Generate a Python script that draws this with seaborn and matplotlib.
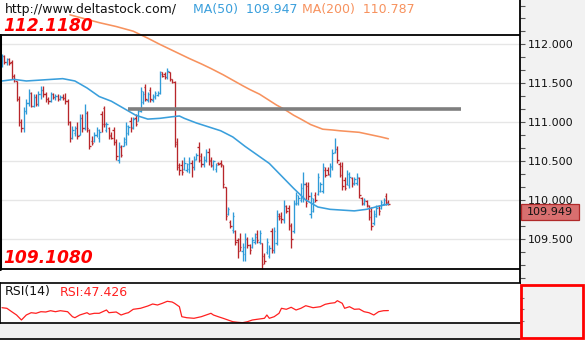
import matplotlib
matplotlib.use("Agg")
import matplotlib.pyplot as plt
import seaborn as sns
import pandas as pd
from matplotlib.patches import Rectangle
from matplotlib.lines import Line2D
from matplotlib.ticker import FixedLocator, MultipleLocator, FormatStrFormatter

# ---------------- data ----------------
bar_open = [111.74,111.85,111.77,111.81,111.77,111.60,111.53,111.30,111.00,110.92,
            111.14,111.25,111.38,111.21,111.32,111.24,111.36,111.42,111.36,111.30,
            111.27,111.36,111.32,111.34,111.30,111.33,111.31,111.27,111.00,110.80,
            110.86,110.92,110.84,111.05,110.92,111.12,110.90,110.76,110.76,110.83,
            110.80,111.10,111.18,110.90,110.92,110.84,110.90,110.75,110.52,110.68,
            110.70,110.74,110.86,111.02,110.94,111.06,111.02,111.15,111.26,111.45,
            111.28,111.42,111.28,111.32,111.35,111.38,111.64,111.62,111.58,111.64,
            111.55,111.52,110.75,110.45,110.45,110.40,110.38,110.40,110.48,110.42,
            110.53,110.68,110.56,110.46,110.52,110.62,110.52,110.44,110.40,110.48,
            110.48,110.45,110.17,109.82,109.72,109.62,109.60,109.48,109.50,109.34,
            109.30,109.50,109.42,109.40,109.46,109.56,109.46,109.45,109.28,109.33,
            109.28,109.60,109.36,109.45,109.80,109.80,109.74,109.92,109.90,109.68,
            109.60,109.96,109.96,110.00,110.02,110.20,110.18,109.82,109.86,110.06,
            110.08,110.12,110.12,110.38,110.38,110.32,110.42,110.62,110.66,110.46,
            110.44,110.26,110.21,110.19,110.28,110.20,110.22,110.28,110.02,109.95,
            109.99,109.92,109.86,109.70,109.80,109.92,109.90,109.95,110.05,109.98]
bar_high = [111.88,111.86,111.83,111.82,111.80,111.62,111.53,111.34,111.04,111.19,
            111.30,111.43,111.39,111.36,111.36,111.40,111.47,111.46,111.39,111.32,
            111.39,111.38,111.36,111.36,111.35,111.36,111.37,111.30,111.01,110.95,
            110.95,111.00,111.10,111.10,111.23,111.14,110.91,110.82,110.87,110.94,
            110.91,111.14,111.21,111.00,110.94,110.87,110.94,110.78,110.74,110.71,
            110.81,111.00,110.97,111.07,111.07,111.10,111.17,111.45,111.40,111.49,
            111.39,111.45,111.36,111.40,111.40,111.66,111.65,111.65,111.70,111.65,
            111.56,111.53,110.80,110.48,110.52,110.55,110.48,110.55,110.52,110.56,
            110.61,110.74,110.61,110.56,110.65,110.67,110.55,110.52,110.48,110.49,
            110.52,110.45,110.17,109.91,109.74,109.84,109.61,109.51,109.57,109.45,
            109.57,109.52,109.44,109.52,109.57,109.61,109.61,109.45,109.32,109.51,
            109.42,109.64,109.65,109.87,109.83,109.84,110.00,109.94,109.94,109.71,
            110.00,110.10,110.06,110.22,110.36,110.23,110.23,110.10,110.03,110.10,
            110.35,110.23,110.48,110.42,110.42,110.48,110.65,110.80,110.69,110.49,
            110.49,110.29,110.39,110.36,110.30,110.30,110.35,110.29,110.04,110.03,
            110.00,109.94,109.91,109.87,109.94,109.94,110.00,110.03,110.09,110.00]
bar_low = [111.71,111.75,111.74,111.74,111.56,111.52,111.27,110.95,110.88,110.88,
           111.10,111.21,111.19,111.20,111.21,111.21,111.30,111.33,111.26,111.24,
           111.26,111.30,111.28,111.27,111.28,111.29,111.23,110.97,110.75,110.78,
           110.82,110.78,110.84,110.88,110.90,110.88,110.65,110.71,110.75,110.81,
           110.75,110.88,110.94,110.88,110.78,110.78,110.71,110.52,110.48,110.55,
           110.69,110.71,110.84,110.88,110.91,110.95,111.01,111.13,111.23,111.27,
           111.26,111.26,111.26,111.30,111.34,111.36,111.58,111.56,111.56,111.53,
           111.50,110.68,110.39,110.32,110.32,110.39,110.36,110.35,110.30,110.39,
           110.52,110.49,110.43,110.43,110.49,110.45,110.42,110.39,110.36,110.45,
           110.43,110.16,109.74,109.81,109.64,109.57,109.42,109.26,109.35,109.22,
           109.22,109.38,109.31,109.38,109.44,109.45,109.44,109.11,109.18,109.31,
           109.25,109.32,109.32,109.42,109.74,109.71,109.71,109.83,109.61,109.38,
           109.57,109.94,109.94,109.97,109.97,109.91,110.00,109.77,109.84,109.97,
           110.06,110.10,110.09,110.30,110.32,110.30,110.39,110.61,110.48,110.29,
           110.13,110.13,110.19,110.16,110.17,110.19,110.19,110.03,109.94,109.94,
           109.91,109.74,109.61,109.68,109.78,109.81,109.89,109.94,109.94,109.94]
bar_close = [111.85,111.78,111.81,111.76,111.60,111.55,111.30,111.00,110.92,111.15,
             111.25,111.38,111.21,111.32,111.24,111.36,111.42,111.36,111.30,111.27,
             111.36,111.32,111.34,111.30,111.33,111.31,111.27,111.00,110.80,110.90,
             110.92,110.82,111.05,110.92,111.12,110.92,110.70,110.73,110.84,110.90,
             110.88,110.98,110.98,110.98,110.82,110.80,110.75,110.56,110.70,110.58,
             110.78,110.95,110.94,110.92,111.04,110.98,111.14,111.40,111.36,111.30,
             111.36,111.30,111.34,111.38,111.38,111.62,111.60,111.58,111.66,111.56,
             111.52,110.72,110.42,110.38,110.36,110.48,110.46,110.48,110.42,110.52,
             110.58,110.52,110.46,110.52,110.62,110.50,110.45,110.50,110.45,110.46,
             110.46,110.20,109.80,109.88,109.66,109.80,109.46,109.35,109.40,109.40,
             109.50,109.42,109.36,109.48,109.52,109.48,109.58,109.18,109.22,109.46,
             109.38,109.36,109.60,109.82,109.77,109.75,109.92,109.86,109.66,109.50,
             109.95,110.06,110.02,110.15,110.20,109.96,110.05,110.02,109.98,110.00,
             110.30,110.20,110.42,110.32,110.34,110.44,110.60,110.66,110.52,110.32,
             110.18,110.16,110.34,110.30,110.22,110.27,110.30,110.06,109.96,110.00,
             109.94,109.78,109.66,109.82,109.90,109.86,109.97,110.00,109.96,109.949]

ma50_idx = [0, 5, 10, 15, 20, 25, 30, 35, 40, 45, 50, 55, 60, 65, 70, 73, 75, 80, 85,
            90, 95, 100, 105, 110, 115, 120, 125, 130, 135, 140, 145, 150, 155, 159]
ma50_val = [111.53, 111.55, 111.53, 111.54, 111.55, 111.56, 111.53, 111.44, 111.33,
            111.27, 111.18, 111.09, 111.04, 111.05, 111.07, 111.08, 111.05, 110.99,
            110.94, 110.89, 110.81, 110.69, 110.58, 110.47, 110.31, 110.15, 110.00,
            109.91, 109.88, 109.87, 109.86, 109.88, 109.92, 109.947]
ma200_idx = [28, 34, 40, 47, 54, 60, 65, 71, 77, 82, 86, 91, 95, 99, 102, 106, 109,
             113, 116, 120, 123, 127, 132, 136, 139, 143, 147, 150, 153, 156, 159]
ma200_val = [112.38, 112.33, 112.28, 112.23, 112.17, 112.08, 112.00, 111.91, 111.82,
             111.75, 111.69, 111.61, 111.54, 111.47, 111.42, 111.36, 111.30, 111.22,
             111.17, 111.09, 111.04, 110.97, 110.91, 110.90, 110.89, 110.88, 110.87,
             110.85, 110.83, 110.81, 110.787]

rsi_idx = [0, 2, 4, 6, 8, 10, 12, 14, 16, 18, 20, 22, 24, 27, 29, 30, 32, 35, 36, 38,
           40, 43, 44, 47, 49, 51, 52, 54, 57, 60, 62, 64, 66, 68, 70, 71, 73, 74, 76,
           79, 82, 84, 86, 87, 89, 91, 93, 95, 97, 99, 101, 103, 105, 108, 109, 110,
           112, 114, 115, 117, 119, 121, 123, 125, 128, 131, 133, 135, 137, 138, 140,
           141, 143, 145, 147, 149, 151, 153, 155, 157, 159]
rsi_val = [50.3, 49.7, 46.3, 43.0, 38.0, 43.0, 45.3, 44.7, 46.3, 46.0, 47.3, 46.3, 47.3,
           46.3, 41.3, 40.3, 43.0, 45.3, 43.7, 44.7, 44.7, 48.0, 45.3, 46.0, 43.0, 44.7,
           45.3, 48.7, 49.7, 52.0, 54.0, 53.0, 54.7, 56.7, 56.0, 54.7, 51.3, 41.3, 40.3,
           39.7, 41.3, 43.0, 44.7, 43.0, 41.3, 39.7, 38.0, 36.3, 35.7, 35.3, 36.3, 38.0,
           38.7, 39.7, 43.0, 39.7, 41.3, 44.7, 49.7, 48.7, 50.7, 48.0, 49.7, 52.3, 50.3,
           51.3, 53.7, 54.7, 55.3, 57.3, 54.7, 49.7, 51.3, 48.7, 49.0, 46.3, 45.3, 43.0,
           46.3, 47.3, 47.426]

period_high = 112.1180
period_low = 109.1080
resist_level = 111.17
resist_span = [52, 189]
price_ticks = [109.5, 110.0, 110.5, 111.0, 111.5, 112.0]
last_price = 109.949
ma50_last = 109.947
ma200_last = 110.787
rsi_last = 47.426
site = "http://www.deltastock.com/"

# ---------------- styling ----------------
sns.set_style("white")
plt.rcParams['font.family'] = ['DejaVu Sans']

UP = '#2f9bd8'
DOWN = '#b8262b'
W, H = 585, 340
fig = plt.figure(figsize=(W / 100, H / 100), dpi=100, facecolor='#f2f2f2')

def fx(x):
    return x / W

def fy(y):
    return 1 - y / H

ax = fig.add_axes([0, fy(283), fx(520), 283 / H], facecolor='white')
rsi_ax = fig.add_axes([0, fy(323), fx(520), 40 / H], facecolor='white')

step_px = 2.43
xlim = (-2 / step_px, 518 / step_px)

# ---------------- price panel ----------------
df = pd.DataFrame({'o': bar_open, 'h': bar_high, 'l': bar_low, 'c': bar_close})
df['i'] = range(len(df))
df['col'] = [UP if c >= o else DOWN for o, c in zip(df.o, df.c)]

ax.vlines(df.i, df.l, df.h, colors=df.col, lw=0.95, zorder=3)
ax.hlines(df.o, df.i - 0.55, df.i, colors=df.col, lw=0.95, zorder=3)
ax.hlines(df.c, df.i, df.i + 0.55, colors=df.col, lw=0.95, zorder=3)

ma50 = pd.DataFrame({'i': ma50_idx, 'v': ma50_val})
ma200 = pd.DataFrame({'i': ma200_idx, 'v': ma200_val})
sns.lineplot(data=ma50, x='i', y='v', ax=ax, color='#3a9fdc', lw=1.15, zorder=4)
sns.lineplot(data=ma200, x='i', y='v', ax=ax, color='#f7925e', lw=1.15, zorder=4)

ax.plot(resist_span, [resist_level, resist_level], color='#7f7f7f', lw=2.6, zorder=5,
        solid_capstyle='butt')
ax.axhline(period_high, color='black', lw=1.3, zorder=5)
ax.axhline(period_low, color='black', lw=1.3, zorder=5)
ax.plot([xlim[0], xlim[0]], [period_low, period_high], color='black', lw=2.2,
        clip_on=False, zorder=5)

ax.set_xlim(*xlim)
ax.set_ylim(108.933, 112.571)
ax.set_xlabel('')
ax.set_ylabel('')
ax.set_xticks([])
ax.yaxis.tick_right()
ax.yaxis.set_major_locator(FixedLocator(price_ticks))
ax.yaxis.set_minor_locator(MultipleLocator(1 / 6))
ax.yaxis.set_major_formatter(FormatStrFormatter('%.3f'))
ax.tick_params(axis='y', which='both', right=True, left=False, labelright=True,
               direction='out', length=3.5, width=0.8, color='#555555',
               labelsize=8, pad=2, labelcolor='#111111')
ax.grid(axis='y', which='major', color='#e6e6e6', lw=1)
ax.set_axisbelow(True)
for s in ['left', 'top', 'bottom']:
    ax.spines[s].set_visible(False)
ax.spines['right'].set_color('black')
ax.spines['right'].set_linewidth(1.3)

# current price box
fig.canvas.draw()
ypix = ax.transData.transform((0, last_price))[1]
box = Rectangle((fx(520.5), (ypix - 16) / H), fx(58.5), 16 / H, transform=fig.transFigure,
                facecolor='#d86f6f', edgecolor='#b02a2a', lw=0.9, zorder=10)
fig.add_artist(box)
fig.text(fx(549.5), (ypix - 8) / H, f"{last_price:.3f}", ha='center', va='center',
         fontsize=8, color='#111111', zorder=11)

# header texts
fig.text(fx(5), fy(13.5), site, fontsize=9, color='#111111', va='baseline')
fig.text(fx(193), fy(13.5), f"MA(50)  {ma50_last:.3f}", fontsize=9, color='#3a9fdc',
         va='baseline')
fig.text(fx(302), fy(13.5), f"MA(200)  {ma200_last:.3f}", fontsize=9, color='#f7925e',
         va='baseline')
fig.text(fx(3), fy(31), f"{period_high:.4f}", fontsize=12.3, color='#ff0000',
         fontweight='bold', fontstyle='italic', va='baseline')
fig.text(fx(3), fy(263), f"{period_low:.4f}", fontsize=12.3, color='#ff0000',
         fontweight='bold', fontstyle='italic', va='baseline')

# ---------------- RSI panel ----------------
rsi = pd.DataFrame({'i': rsi_idx, 'v': rsi_val})
sns.lineplot(data=rsi, x='i', y='v', ax=rsi_ax, color='#ff2020', lw=0.9)
rsi_ax.set_xlim(*xlim)
rsi_ax.set_ylim(35, 75)
rsi_ax.set_xlabel('')
rsi_ax.set_ylabel('')
rsi_ax.set_xticks([])
rsi_ax.yaxis.tick_right()
rsi_ax.set_yticks([37, 49, 60])
rsi_ax.tick_params(axis='y', right=True, left=False, labelright=False, direction='out',
                   length=3, width=0.8, color='#777777', pad=2)
for s in ['left', 'top', 'bottom']:
    rsi_ax.spines[s].set_visible(True)
    rsi_ax.spines[s].set_color('black')
    rsi_ax.spines[s].set_linewidth(1.2)
rsi_ax.spines['right'].set_visible(False)

fig.text(fx(5), fy(295.5), "RSI(14)", fontsize=9, color='#111111', va='baseline')
fig.text(fx(60), fy(295.5), f"RSI:{rsi_last:.3f}", fontsize=9, color='#ff2020',
         va='baseline')

# bottom border and RSI scale box
fig.add_artist(Line2D([0, fx(520)], [fy(339), fy(339)], color='black', lw=1.2,
                      transform=fig.transFigure))
fig.add_artist(Rectangle((fx(521.3), fy(338)), fx(61.7), 53.4 / H, transform=fig.transFigure,
                         facecolor='none', edgecolor='#ff0000', lw=2.0, zorder=12))

fig.savefig("out.png", dpi=100, facecolor=fig.get_facecolor())
